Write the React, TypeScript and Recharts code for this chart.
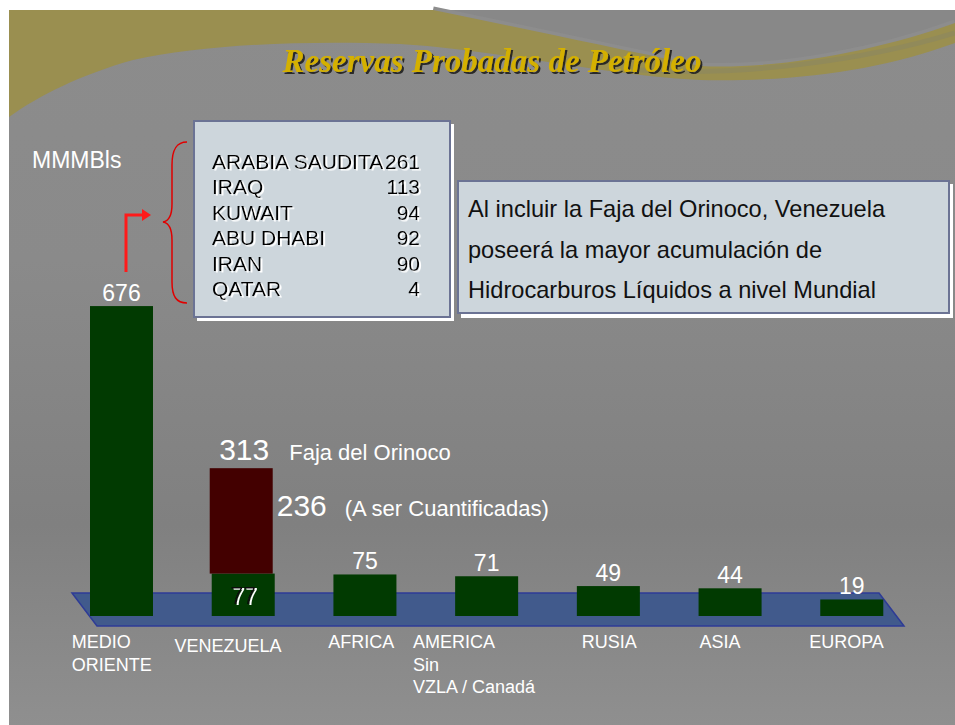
import React from 'react';
import { BarChart, Bar, XAxis, YAxis } from 'recharts';

// ---------- data ----------
const categories = ['MEDIO\nORIENTE', 'VENEZUELA', 'AFRICA', 'AMERICA\nSin\nVZLA / Canadá', 'RUSIA', 'ASIA', 'EUROPA'];
const provenReserves = [676, 77, 75, 71, 49, 44, 19];
const orinocoReserves = [0, 236, 0, 0, 0, 0, 0];
const middleEastCountries = ['ARABIA SAUDITA', 'IRAQ', 'KUWAIT', 'ABU DHABI', 'IRAN', 'QATAR'];
const middleEastValues = [261, 113, 94, 92, 90, 4];
const noteLines = [
  'Al incluir la Faja del Orinoco, Venezuela',
  'poseerá la mayor acumulación de',
  'Hidrocarburos Líquidos a nivel Mundial',
];
const titleText = 'Reservas Probadas de Petróleo';
const unitText = 'MMMBls';
const orinocoText = 'Faja del Orinoco';
const toQuantifyText = '(A ser Cuantificadas)';

// axis floor (the bars rest on the 3D floor below value 0)
const AXIS_MIN = -18;
const AXIS_MAX = 801.6;

const data = categories.map((name, i) => ({
  name,
  proven: provenReserves[i],
  orinoco: orinocoReserves[i],
}));

// ---------- styling ----------
const SANS = '"Liberation Sans", Arial, sans-serif';
const GREEN = '#013a01';
const RED = '#430000';
const LABEL_DX = [-49, -68, -36, -73, -26, -30, -42];
const LABEL_DY = [32, 36, 32, 32, 32, 32, 32];

const CatTick = (props: any) => {
  const { x, y, payload, index } = props;
  const lines = String(payload.value).split('\n');
  return (
    <text x={x + LABEL_DX[index]} y={y + LABEL_DY[index]} fill="#ffffff" fontFamily={SANS} fontSize={18} textAnchor="start">
      {lines.map((l, k) => (
        <tspan key={k} x={x + LABEL_DX[index]} dy={k === 0 ? 0 : 22.5}>{l}</tspan>
      ))}
    </text>
  );
};

const norm = (props: any) => {
  const { x, y, width, height } = props;
  const top = Math.min(y, y + height);
  const h = Math.abs(height);
  return { x, top, width, h };
};

const ProvenShape = (props: any) => {
  const { x, top, width, h } = norm(props);
  const p = props.payload || {};
  const cx = x + width / 2;
  const hasOrinoco = p.orinoco > 0;
  return (
    <g>
      <rect x={x} y={top} width={width} height={h} fill={GREEN} />
      {hasOrinoco ? (
        <text x={cx} y={top + h / 2 + 9} fill="#0a0a0a" fontFamily={SANS} fontSize={23} textAnchor="middle" filter="url(#whiteShadow)">{p.proven}</text>
      ) : (
        <text x={cx} y={top - 5} fill="#ffffff" fontFamily={SANS} fontSize={23} textAnchor="middle">{p.proven}</text>
      )}
    </g>
  );
};

const OrinocoShape = (props: any) => {
  const { x, top, width, h } = norm(props);
  const p = props.payload || {};
  if (!(p.orinoco > 0) || !(h > 0)) return <g />;
  const cx = x + width / 2;
  const total = p.proven + p.orinoco;
  return (
    <g>
      <rect x={x} y={top} width={width} height={h} fill={RED} />
      <g fontFamily={SANS} fill="#ffffff">
        <text x={cx + 3} y={top - 8} fontSize={30} textAnchor="middle">{total}</text>
        <text x={cx + 48} y={top - 8} fontSize={22}>{orinocoText}</text>
        <text x={x + width + 4} y={top + 48} fontSize={30}>{p.orinoco}</text>
        <text x={x + width + 72} y={top + 48} fontSize={22}>{toQuantifyText}</text>
      </g>
    </g>
  );
};

const Background = () => (
  <svg width={955} height={725} style={{ position: 'absolute', left: 0, top: 0 }}>
    <defs>
      <linearGradient id="bg" x1="0" y1="0" x2="0" y2="1">
        <stop offset="0" stopColor="#8c8c8c" />
        <stop offset="0.35" stopColor="#8a8a8a" />
        <stop offset="0.72" stopColor="#808080" />
        <stop offset="1" stopColor="#8f8f8f" />
      </linearGradient>
      <filter id="whiteShadow" x="-20%" y="-30%" width="150%" height="160%">
        <feDropShadow dx="2" dy="1" stdDeviation="0.4" floodColor="#ffffff" floodOpacity="1" />
      </filter>
      <filter id="darkShadow" x="-5%" y="-20%" width="110%" height="150%">
        <feDropShadow dx="2" dy="2" stdDeviation="0.6" floodColor="#1a1a1a" floodOpacity="0.9" />
      </filter>
      <filter id="whiteShadowBox" x="-5%" y="-20%" width="110%" height="150%">
        <feDropShadow dx="2" dy="1.5" stdDeviation="0.3" floodColor="#ffffff" floodOpacity="1" />
      </filter>
    </defs>
    <rect x={9} y={10} width={946} height={715} fill="url(#bg)" />
    <path d="M433,10 C520,28 600,45 700,66 C780,70 880,50 955,23 L955,10 Z" fill="#888888" />
    <path d="M433,10 C520,28 600,45 700,66 C780,70 880,50 955,23" fill="none" stroke="#8d8d8d" strokeWidth={7} />
    <path
      d="M9,10 L433,10 C520,28 600,45 700,66 C780,70 880,50 955,23 L955,43 C880,70 800,82 700,80 C600,75 500,50 400,44 C300,40 200,45 133,60 C80,75 40,95 9,117 Z"
      fill="#9a8f50"
    />
    <path d="M640,70 C740,76 860,62 955,33" fill="none" stroke="#918a5a" strokeWidth={5} />
    <polygon points="72,593 879,593 904,626 97,626" fill="#415a8c" stroke="#2e3b96" strokeWidth={1.5} />
  </svg>
);

const Overlay = () => (
  <svg width={955} height={725} style={{ position: 'absolute', left: 0, top: 0, pointerEvents: 'none' }}>
    {/* title */}
    <text x={492} y={72} fontFamily='"Liberation Serif", serif' fontWeight="bold" fontStyle="italic" fontSize={33} fill="#d4b000" textAnchor="middle" filter="url(#darkShadow)">{titleText}</text>

    {/* unit */}
    <text x={32} y={168} fontFamily={SANS} fontSize={23} fill="#ffffff">{unitText}</text>

    {/* red arrow */}
    <polyline points="126,272 126,215 143,215" fill="none" stroke="#ff1a1a" strokeWidth={3} />
    <polygon points="142,209 151,215 142,221" fill="#ff1a1a" />

    {/* brace */}
    <path
      d="M187,142 C176,142 172,150 172,165 L172,204 C172,216 169,221 163,222 C169,223 172,228 172,240 L172,282 C172,296 176,303 187,303"
      fill="none" stroke="#e00000" strokeWidth={1.5}
    />

    {/* Middle East box */}
    <rect x={197} y={124} width={257} height={197} fill="#ffffff" />
    <rect x={194} y={121} width={256} height={196} fill="#cdd6dc" stroke="#6b7394" strokeWidth={2} />
    <g fontFamily={SANS} fontSize={21} fill="#000000" filter="url(#whiteShadowBox)">
      {middleEastCountries.map((c, i) => (
        <text key={c} x={212} y={169 + i * 25.4}>{c}</text>
      ))}
      {middleEastValues.map((v, i) => (
        <text key={i} x={420} y={169 + i * 25.4} textAnchor="end">{v}</text>
      ))}
    </g>

    {/* note box */}
    <rect x={461} y={184} width={492} height={134} fill="#ffffff" />
    <rect x={458} y={181} width={491} height={132} fill="#cdd6dc" stroke="#6b7394" strokeWidth={2} />
    {noteLines.map((l, i) => (
      <text key={i} x={468} y={217 + i * 40.5} fontFamily={SANS} fontSize={23.6} fill="#111111">{l}</text>
    ))}
  </svg>
);

export default function App() {
  return (
    <div style={{ position: 'absolute', left: 0, top: 0, width: 955, height: 725, background: '#ffffff' }}>
      <Background />
      <div style={{ position: 'absolute', left: 0, top: 0 }}>
        <BarChart
          width={955}
          height={725}
          data={data}
          margin={{ top: 250, right: 43, bottom: 69, left: 60 }}
          barSize={63}
          barGap={-65}
        >
          <XAxis
            dataKey="name"
            height={40}
            axisLine={false}
            tickLine={false}
            tickSize={0}
            tickMargin={0}
            interval={0}
            tick={<CatTick />}
          />
          <YAxis hide width={0} type="number" domain={[AXIS_MIN, AXIS_MAX]} />
          <Bar
            dataKey={(d: any) => [AXIS_MIN, d.proven]}
            fill={GREEN}
            isAnimationActive={false}
            shape={<ProvenShape />}
          />
          <Bar
            dataKey={(d: any) => (d.orinoco ? [d.proven, d.proven + d.orinoco] : null)}
            fill={RED}
            isAnimationActive={false}
            shape={<OrinocoShape />}
          />
        </BarChart>
      </div>
      <Overlay />
    </div>
  );
}
